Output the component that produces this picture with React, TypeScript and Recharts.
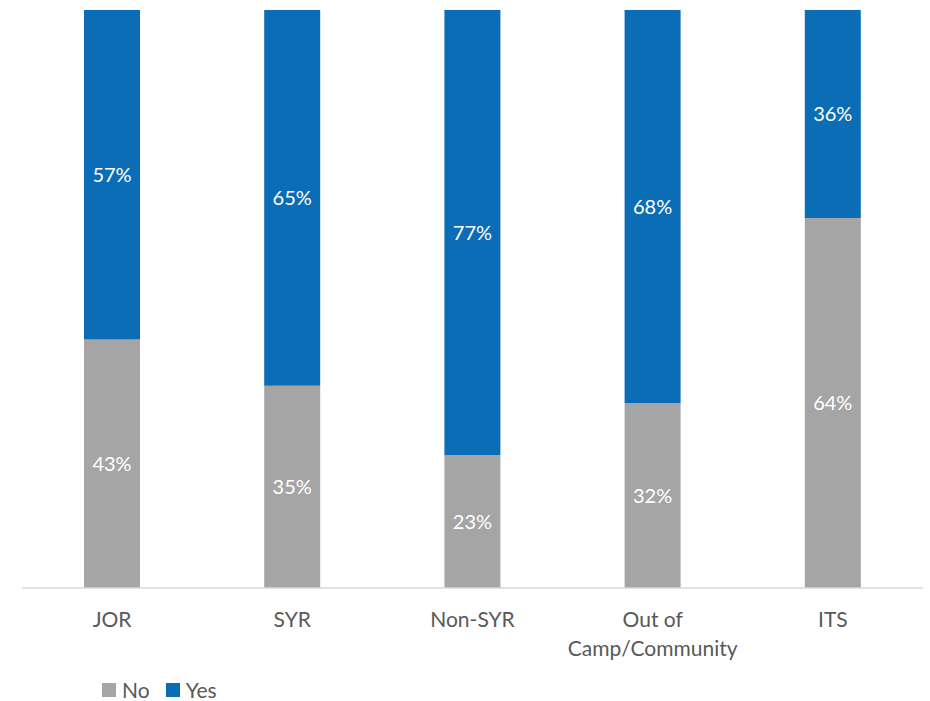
import { BarChart, Bar, XAxis, YAxis, Legend, LabelList } from 'recharts';

const categories = ['JOR', 'SYR', 'Non-SYR', 'Out of Camp/Community', 'ITS'];
const tickLines = [['JOR'], ['SYR'], ['Non-SYR'], ['Out of', 'Camp/Community'], ['ITS']];
const noValues = [43, 35, 23, 32, 64];
const yesValues = [57, 65, 77, 68, 36];

const data = categories.map((name, i) => ({ name, no: noValues[i], yes: yesValues[i] }));

const FONT = 'Lato, "Open Sans", sans-serif';

function CategoryTick(props: any) {
    const { x, y, index } = props;
    const lines = tickLines[index] || [props.payload.value];
    return (
        <text x={x} y={y} textAnchor="middle" fill="#595959" fontSize={21} fontFamily={FONT}>
            {lines.map((line: string, i: number) => (
                <tspan key={i} x={x} dy={i === 0 ? 31 : 29}>
                    {line}
                </tspan>
            ))}
        </text>
    );
}

export default function App() {
    return (
        <div style={{ position: 'absolute', left: 0, top: 0, background: '#fff' }}>
            <BarChart
                width={930}
                height={701}
                data={data}
                margin={{ top: 10, right: 7, left: 22, bottom: 0 }}
            >
                <XAxis
                    dataKey="name"
                    height={73}
                    interval={0}
                    axisLine={{ stroke: '#D9D9D9', strokeWidth: 1.5 }}
                    tickLine={false}
                    tick={<CategoryTick />}
                />
                <YAxis hide domain={[0, 100]} />
                <Legend
                    verticalAlign="bottom"
                    height={40}
                    content={() => (
                        <div style={{ display: 'flex', gap: 16, paddingLeft: 80, paddingTop: 18, fontFamily: FONT, fontSize: 21, color: '#595959' }}>
                            {[
                                { label: 'No', color: '#A5A5A5' },
                                { label: 'Yes', color: '#0B6DB5' },
                            ].map((item) => (
                                <div key={item.label} style={{ display: 'flex', alignItems: 'center', gap: 6 }}>
                                    <div style={{ width: 14, height: 14, background: item.color }} />
                                    <span style={{ lineHeight: '22px' }}>{item.label}</span>
                                </div>
                            ))}
                        </div>
                    )}
                />
                <Bar dataKey="no" stackId="a" fill="#A5A5A5" barSize={56} isAnimationActive={false}>
                    <LabelList
                        dataKey="no"
                        position="center"
                        formatter={(v: any) => `${v}%`}
                        fill="#fff"
                        fontSize={20}
                        fontFamily={FONT}
                    />
                </Bar>
                <Bar dataKey="yes" stackId="a" fill="#0B6DB5" barSize={56} isAnimationActive={false}>
                    <LabelList
                        dataKey="yes"
                        position="center"
                        formatter={(v: any) => `${v}%`}
                        fill="#fff"
                        fontSize={20}
                        fontFamily={FONT}
                    />
                </Bar>
            </BarChart>
        </div>
    );
}
